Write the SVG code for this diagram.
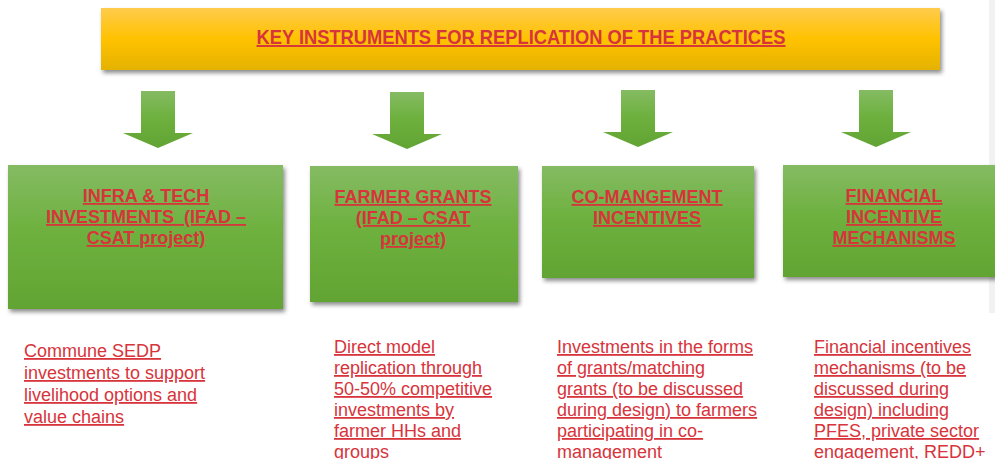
<svg xmlns="http://www.w3.org/2000/svg" width="995" height="459" viewBox="0 0 995 459">
  <defs>
    <linearGradient id="gold" x1="0" y1="0" x2="0" y2="1">
      <stop offset="0" stop-color="#FFCB4C"/>
      <stop offset="0.5" stop-color="#FFC200"/>
      <stop offset="1" stop-color="#E4B200"/>
    </linearGradient>
    <linearGradient id="green" x1="0" y1="0" x2="0" y2="1">
      <stop offset="0" stop-color="#85BB63"/>
      <stop offset="0.45" stop-color="#6EB13F"/>
      <stop offset="1" stop-color="#62A433"/>
    </linearGradient>
    <filter id="shadow" x="-5%" y="-10%" width="115%" height="130%">
      <feDropShadow dx="2" dy="3" stdDeviation="2" flood-color="#000" flood-opacity="0.45"/>
    </filter>
    <path id="arrow" d="M-17,0 H17 V42 H35 L0,57 L-35,42 H-17 Z"/>
  </defs>
  <style>
    .hdr { font-family: "Liberation Sans", Arial, sans-serif; font-weight: bold; fill: #D7343B; text-decoration: underline; }
    .box { fill: url(#green); filter: url(#shadow); }
    .arr { fill: url(#green); }
    .note { font-family: "Liberation Sans", Arial, sans-serif; font-size: 18px; fill: #D7343B; text-decoration: underline; }
  </style>

  <!-- side strip -->
  <rect x="989" y="0" width="6" height="313" fill="#F2F2F2"/>

  <!-- banner -->
  <g id="banner">
    <rect x="101" y="8" width="839" height="62" fill="url(#gold)" filter="url(#shadow)"/>
    <text class="hdr" x="521" y="44" font-size="19.5" text-anchor="middle" textLength="529" lengthAdjust="spacingAndGlyphs">KEY INSTRUMENTS FOR REPLICATION OF THE PRACTICES</text>
  </g>

  <!-- connectors: block arrows -->
  <g id="connectors">
    <use href="#arrow" class="arr" x="158" y="91"/>
    <use href="#arrow" class="arr" x="407" y="92"/>
    <use href="#arrow" class="arr" x="638" y="90"/>
    <use href="#arrow" class="arr" x="876" y="90"/>
  </g>

  <!-- instrument nodes -->
  <g id="node-infra">
    <rect class="box" x="8" y="165" width="275" height="144"/>
    <text class="hdr" font-size="18" text-anchor="middle"><tspan x="146" y="202">INFRA &amp; TECH</tspan><tspan x="146" y="223" xml:space="preserve">INVESTMENTS  (IFAD –</tspan><tspan x="146" y="244">CSAT project)</tspan></text>
  </g>
  <g id="node-grants">
    <rect class="box" x="310" y="166" width="208" height="136"/>
    <text class="hdr" font-size="18" text-anchor="middle"><tspan x="413" y="203">FARMER GRANTS</tspan><tspan x="413" y="224">(IFAD – CSAT</tspan><tspan x="413" y="245">project)</tspan></text>
  </g>
  <g id="node-comgmt">
    <rect class="box" x="542" y="166" width="212" height="112"/>
    <text class="hdr" font-size="18" text-anchor="middle"><tspan x="647" y="203">CO-MANGEMENT</tspan><tspan x="647" y="224">INCENTIVES</tspan></text>
  </g>
  <g id="node-finance">
    <rect class="box" x="783" y="165" width="216" height="112"/>
    <text class="hdr" font-size="18" text-anchor="middle"><tspan x="894" y="202">FINANCIAL</tspan><tspan x="894" y="223">INCENTIVE</tspan><tspan x="894" y="244">MECHANISMS</tspan></text>
  </g>

  <!-- descriptions -->
  <g id="desc-infra">
    <text class="note"><tspan x="24" y="357">Commune SEDP</tspan><tspan x="24" y="379">investments to support</tspan><tspan x="24" y="401">livelihood options and</tspan><tspan x="24" y="423">value chains</tspan></text>
  </g>
  <g id="desc-grants">
    <text class="note"><tspan x="334" y="353">Direct model</tspan><tspan x="334" y="374">replication through</tspan><tspan x="334" y="395">50-50% competitive</tspan><tspan x="334" y="416">investments by</tspan><tspan x="334" y="437">farmer HHs and</tspan><tspan x="334" y="458">groups</tspan></text>
  </g>
  <g id="desc-comgmt">
    <text class="note"><tspan x="557" y="353">Investments in the forms</tspan><tspan x="557" y="374">of grants/matching</tspan><tspan x="557" y="395">grants (to be discussed</tspan><tspan x="557" y="416">during design) to farmers</tspan><tspan x="557" y="437">participating in co-</tspan><tspan x="557" y="458">management</tspan></text>
  </g>
  <g id="desc-finance">
    <text class="note"><tspan x="814" y="353">Financial incentives</tspan><tspan x="814" y="374">mechanisms (to be</tspan><tspan x="814" y="395">discussed during</tspan><tspan x="814" y="416">design) including</tspan><tspan x="814" y="437">PFES, private sector</tspan><tspan x="814" y="458">engagement, REDD+</tspan></text>
  </g>
</svg>
